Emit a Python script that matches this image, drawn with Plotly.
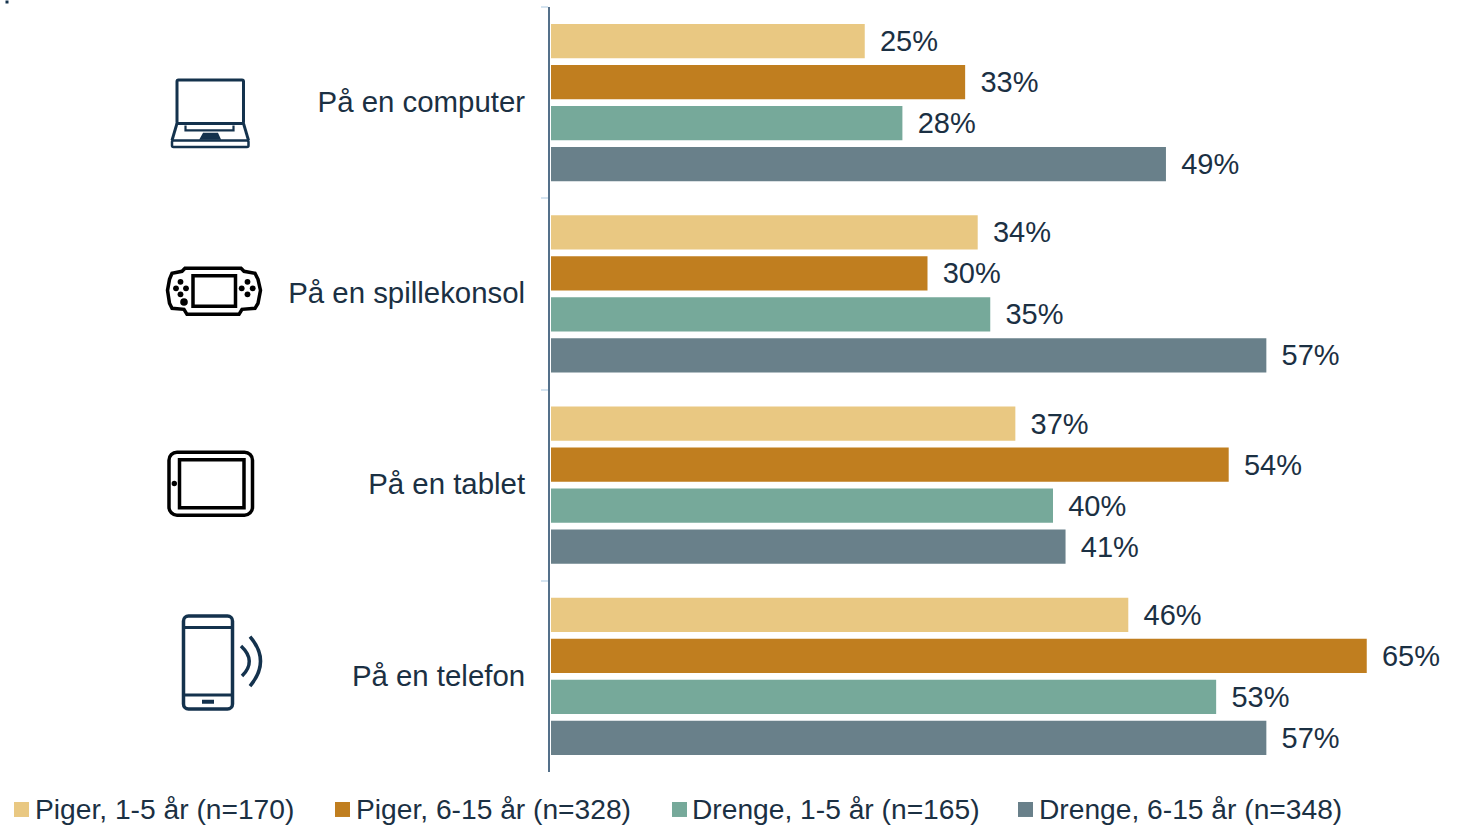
import plotly.graph_objects as go

W, H = 1465, 825
categories = ["På en computer", "På en spillekonsol", "På en tablet", "På en telefon"]
series_names = ["Piger, 1-5 år (n=170)", "Piger, 6-15 år (n=328)", "Drenge, 1-5 år (n=165)", "Drenge, 6-15 år (n=348)"]
piger_1_5 = [25, 34, 37, 46]
piger_6_15 = [33, 30, 54, 65]
drenge_1_5 = [28, 35, 40, 53]
drenge_6_15 = [49, 57, 41, 57]
colors = ["#E9C882", "#C07E1F", "#76A99A", "#69808A"]
TEXT = "#1B3043"
NAVY = "#14324D"
BLACK = "#000000"

ML, PR, PT, PB = 549, 1465, 6.5, 772
BAR0 = 551
XMAX = (PR - BAR0) / 12.55
GAP = '<span style="font-size:22px">\u00a0\u00a0</span>'

fig = go.Figure()
for name, vals, col in zip(series_names, [piger_1_5, piger_6_15, drenge_1_5, drenge_6_15], colors):
    fig.add_trace(go.Bar(
        y=categories, x=vals, name=name, orientation="h",
        marker=dict(color=col, line=dict(width=0)),
        text=[f"{GAP}{v}%" for v in vals], textposition="outside", cliponaxis=False,
        textfont=dict(family="Liberation Sans", size=29, color=TEXT),
        showlegend=False,
    ))

def px(x): return (x - ML) / (PR - ML)
def py(y): return (PB - y) / (PB - PT)

def path(points, close=False):
    s = "M " + " L ".join(f"{px(x):.5f},{py(y):.5f}" for x, y in points)
    return s + (" Z" if close else "")

def rrect(x0, y0, x1, y1, r):
    k = r * 0.45
    def c(a, b, c_, d, e, f):
        return f"C {px(a):.5f},{py(b):.5f} {px(c_):.5f},{py(d):.5f} {px(e):.5f},{py(f):.5f}"
    return " ".join([
        f"M {px(x0+r):.5f},{py(y0):.5f}", f"L {px(x1-r):.5f},{py(y0):.5f}",
        c(x1-k, y0, x1, y0+k, x1, y0+r), f"L {px(x1):.5f},{py(y1-r):.5f}",
        c(x1, y1-k, x1-k, y1, x1-r, y1), f"L {px(x0+r):.5f},{py(y1):.5f}",
        c(x0+k, y1, x0, y1-k, x0, y1-r), f"L {px(x0):.5f},{py(y0+r):.5f}",
        c(x0, y0+k, x0+k, y0, x0+r, y0), "Z"])

def quad(p0, p1, p2):
    return (f"M {px(p0[0]):.5f},{py(p0[1]):.5f} Q {px(p1[0]):.5f},{py(p1[1]):.5f} "
            f"{px(p2[0]):.5f},{py(p2[1]):.5f}")

shapes = []
def add(p, col, w=2.5, fill=None):
    shapes.append(dict(type="path", xref="paper", yref="paper", path=p,
                       line=dict(color=col, width=w), fillcolor=fill or "rgba(0,0,0,0)"))
def dot(x, y, r, col):
    shapes.append(dict(type="circle", xref="paper", yref="paper", x0=px(x-r), x1=px(x+r),
                       y0=py(y+r), y1=py(y-r), fillcolor=col, line=dict(width=0)))

# laptop icon
add(rrect(177, 79.5, 243.5, 123, 1.5), NAVY, 3)
add(rrect(172, 140, 248.5, 146.5, 1.5), NAVY, 2.5)
add(path([(177, 123), (172, 140)]), NAVY, 3)
add(path([(243.5, 123), (248.5, 140)]), NAVY, 3)
add(path([(185.5, 125), (185.5, 130), (233.5, 130), (233.5, 125)]), NAVY, 2.2)
add(path([(200.5, 138.5), (203.5, 133), (217.5, 133), (220, 138.5)], True), NAVY, 1.5, NAVY)

# game console icon
add(path([(185, 268), (241, 268), (244, 271), (255, 273), (258, 279), (260.5, 290),
          (258, 303), (255, 308), (242, 309), (239, 314), (187, 314), (184, 309),
          (172, 308), (169.5, 303), (167.5, 290), (169.5, 279), (172, 273), (182, 271)], True), BLACK, 3.5)
add(path([(193, 275.5), (235.5, 275.5), (235.5, 306), (193, 306)], True), BLACK, 3.5)
for x, y in [(180.5, 281.5), (176, 288), (186, 288), (180.5, 294),
             (247.5, 281.5), (241.7, 288), (252.7, 288), (247.5, 294)]:
    dot(x, y, 2.9, BLACK)
dot(184, 301.7, 3.8, BLACK)

# tablet icon
add(rrect(169, 452, 252.5, 515, 8), BLACK, 3.5)
add(path([(179.5, 459.5), (244, 459.5), (244, 507.5), (179.5, 507.5)], True), BLACK, 3.5)
dot(174.3, 483.3, 2.7, BLACK)

# phone icon
add(rrect(183.5, 616, 232.5, 709, 5), NAVY, 3.5)
add(path([(183.5, 627.5), (232.5, 627.5)]), NAVY, 3)
add(path([(183.5, 695), (232.5, 695)]), NAVY, 3)
add(path([(202, 701.7), (214, 701.7)]), NAVY, 4)
add(quad((241, 646), (257, 661), (242, 676)), NAVY, 3.5)
add(quad((250, 636.5), (271, 661), (250, 686)), NAVY, 3.5)

# cropped fragment at the top-left edge of the reference
shapes.append(dict(type="rect", xref="paper", yref="paper", x0=px(5.5), x1=px(8.5), y0=py(3), y1=py(0),
                   fillcolor=NAVY, line=dict(width=0)))

# legend
legend_x = [14, 335, 672, 1018]
text_x = [35, 356, 692, 1039]
annotations = []
for sx, tx, name, col in zip(legend_x, text_x, series_names, colors):
    shapes.append(dict(type="rect", xref="paper", yref="paper", x0=px(sx), x1=px(sx+15),
                       y0=py(817), y1=py(802), fillcolor=col, line=dict(width=0)))
    annotations.append(dict(xref="paper", yref="paper", x=px(tx), y=py(809), text=name,
                            showarrow=False, xanchor="left", yanchor="middle", borderpad=0, borderwidth=0,
                            font=dict(family="Liberation Sans", size=28.2, color=TEXT)))

fig.update_layout(
    width=W, height=H, autosize=False,
    margin=dict(l=ML, r=W-PR, t=PT, b=H-PB, pad=0),
    paper_bgcolor="white", plot_bgcolor="white",
    barmode="group", bargap=0.1425, bargroupgap=0.16,
    showlegend=False, shapes=shapes, annotations=annotations,
    xaxis=dict(domain=[(BAR0-ML)/(PR-ML), 1], range=[0, XMAX], visible=False, showgrid=False, zeroline=False),
    yaxis=dict(autorange="reversed", type="category", categoryorder="array", categoryarray=categories,
               anchor="free", position=0,
               showline=True, linecolor="#54708A", linewidth=2, showgrid=False, zeroline=False,
               ticks="outside", tickson="boundaries", ticklen=7, tickcolor="#D5E4F0", tickwidth=2,
               ticklabelstandoff=17, ticklabelshift=1,
               tickfont=dict(family="Liberation Sans", size=29.4, color=TEXT)),
)
fig.write_html("out.html", config=dict(displayModeBar=False),
               post_script="document.body.style.margin='0';document.body.style.overflow='hidden';")
